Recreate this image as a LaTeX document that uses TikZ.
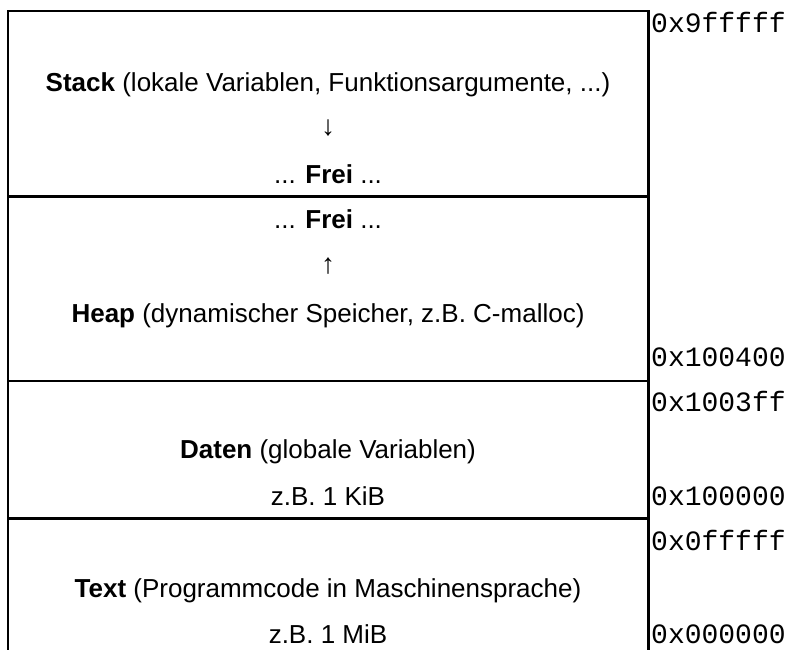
\documentclass[tikz,border=0pt]{standalone}
\usepackage{fontspec}
\setmainfont{Liberation Sans}
\newfontfamily\addrfont{Liberation Mono}
\begin{document}
\begin{tikzpicture}[x=1pt,y=-1pt,
  frame/.style={line width=2.3pt},
  seg/.style={font=\fontsize{26}{30}\selectfont, inner sep=0pt, anchor=base},
  arr/.style={font=\fontsize{28}{30}\selectfont, inner sep=0pt, anchor=center},
  addr/.style={font=\addrfont\fontsize{28}{30}\selectfont, inner sep=0pt, anchor=base west}]
\useasboundingbox (0,0) rectangle (787,649);
% frame
\coordinate (tl) at (7.7,11);
\coordinate (tr) at (648.5,11);
\coordinate (bl) at (7.7,652);
\coordinate (br) at (648.5,652);
\coordinate (d1l) at (7.7,196.5);
\coordinate (d1r) at (648.5,196.5);
\coordinate (d2l) at (7.7,381);
\coordinate (d2r) at (648.5,381);
\coordinate (d3l) at (7.7,518.5);
\coordinate (d3r) at (648.5,518.5);
\draw[frame] (bl) -- (tl) -- (tr) -- (br);
\draw[frame] (d1l) -- (d1r);
\draw[frame] (d2l) -- (d2r);
\draw[frame] (d3l) -- (d3r);
% segment texts
\node[seg] (stack) at (328,91) {\textbf{Stack} (lokale Variablen, Funktionsargumente, ...)};
\node[arr] (down) at (328,128) {↓};
\node[seg] (frei1) at (328,183) {... \textbf{Frei} ...};
\node[seg] (frei2) at (328,228) {... \textbf{Frei} ...};
\node[arr] (up) at (328,266) {↑};
\node[seg] (heap) at (328,322) {\textbf{Heap} (dynamischer Speicher, z.B. C-malloc)};
\node[seg] (daten) at (328,458) {\textbf{Daten} (globale Variablen)};
\node[seg] (kib) at (328,505) {z.B. 1 KiB};
\node[seg] (text) at (328,597) {\textbf{Text} (Programmcode in Maschinensprache)};
\node[seg] (mib) at (328,643) {z.B. 1 MiB};
% addresses
\node[addr] (a1) at (651,32) {0x9fffff};
\node[addr] (a2) at (651,366) {0x100400};
\node[addr] (a3) at (651,411) {0x1003ff};
\node[addr] (a4) at (651,505) {0x100000};
\node[addr] (a5) at (651,550) {0x0fffff};
\node[addr] (a6) at (651,643) {0x000000};
\end{tikzpicture}
\end{document}
